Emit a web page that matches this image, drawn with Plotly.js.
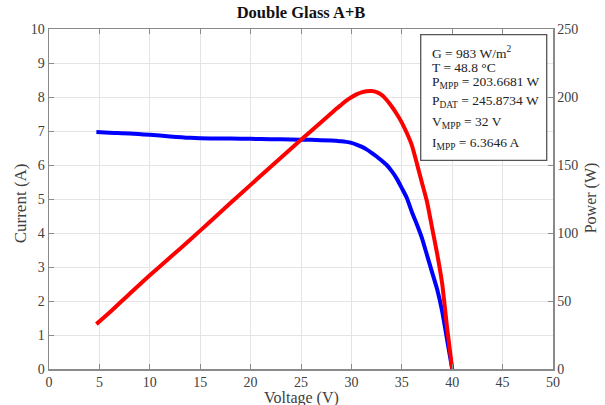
<!DOCTYPE html>
<html>
<head>
<meta charset="utf-8">
<script src="https://cdn.plot.ly/plotly-3.0.1.min.js"></script>
<style>html,body{margin:0;padding:0;background:#fff;}#chart{width:605px;height:405px;}</style>
</head>
<body>
<div id="chart"></div>
<script>
const voltage = [4.7, 6, 8, 10, 12, 14, 16, 18, 20, 22, 24, 26, 28, 28.5, 29, 29.5, 30, 30.5, 31, 31.5, 32, 32.5, 33, 33.5, 34, 34.5, 35, 35.5, 36, 36.5, 37, 37.5, 38, 38.5, 39, 39.5, 40];
const current = [6.97, 6.95, 6.93, 6.89, 6.84, 6.80, 6.78, 6.78, 6.77, 6.76, 6.75, 6.74, 6.72, 6.71, 6.70, 6.68, 6.65, 6.60, 6.54, 6.46, 6.36, 6.25, 6.13, 6.00, 5.82, 5.60, 5.32, 5.03, 4.62, 4.25, 3.85, 3.35, 2.85, 2.35, 1.70, 0.85, 0];
const power = [33, 41.5, 55.4, 68.9, 82, 95, 108.5, 122, 135.4, 148.7, 162, 175, 188, 191.3, 194.3, 197.3, 199.8, 201.9, 203.4, 204.2, 204.4, 203.6, 201.5, 197.8, 193, 187.5, 181.2, 173.5, 164.5, 151, 137, 123, 104, 85, 63, 30, 0];
const infoLines = [
  "G = 983 W/m<sup>2</sup>",
  "T = 48.8 °C",
  "P<sub>MPP</sub> = 203.6681 W",
  "P<sub>DAT</sub> = 245.8734 W",
  "V<sub>MPP</sub> = 32 V",
  "I<sub>MPP</sub> = 6.3646 A"
];
const infoY = [52, 67.5, 82, 101.5, 122, 143];

const serif = "Liberation Serif, Times New Roman, serif";
const textCol = "#404040";
const lineCol = "#8a8a8a";

const traces = [
  {x: voltage, y: current, type: "scatter", mode: "lines", line: {color: "#0000ff", width: 4, shape: "spline", smoothing: 0.6}, yaxis: "y", hoverinfo: "none"},
  {x: voltage, y: power, type: "scatter", mode: "lines", line: {color: "#ff0000", width: 4, shape: "spline", smoothing: 0.6}, yaxis: "y2", hoverinfo: "none"}
];

const plotLeft = 49, plotRight = 553, plotW = plotRight - plotLeft;
const plotTop = 28.7, plotBottom = 368.7, plotH = plotBottom - plotTop;
const annotations = infoLines.map((t, i) => ({
  text: t, xref: "paper", yref: "paper",
  x: (430 - plotLeft) / plotW, y: (plotBottom - infoY[i]) / plotH,
  xanchor: "left", yanchor: "middle", showarrow: false, align: "left",
  font: {family: serif, size: 13.5, color: "#222"}
}));
annotations.push({
  text: "Voltage (V)", xref: "paper", yref: "paper", x: 0.5, y: 0,
  yshift: -(387 - plotBottom), xanchor: "center", yanchor: "top", showarrow: false,
  font: {family: serif, size: 16, color: textCol}
});
annotations.push({
  text: "Current (A)", xref: "paper", yref: "paper", x: 0, y: (plotBottom - 203) / plotH,
  xshift: -(plotLeft - 20), xanchor: "center", yanchor: "middle", textangle: -90, showarrow: false,
  font: {family: serif, size: 17, color: textCol}
});
annotations.push({
  text: "Power (W)", xref: "paper", yref: "paper", x: 1, y: (plotBottom - 198) / plotH,
  xshift: 591 - plotRight, xanchor: "center", yanchor: "middle", textangle: -90, showarrow: false,
  font: {family: serif, size: 16, color: textCol}
});

const layout = {
  width: 605, height: 405,
  margin: {l: plotLeft, r: 605 - plotRight, t: plotTop, b: 405 - plotBottom},
  paper_bgcolor: "#fff", plot_bgcolor: "#fff",
  showlegend: false,
  title: {text: "<b>Double Glass A+B</b>", font: {family: serif, size: 16.5, color: "#111"}, x: 0.5, xref: "paper", y: 0.97, yanchor: "middle"},
  xaxis: {
    range: [0, 50], dtick: 5, tick0: 0,
    showgrid: true, gridcolor: "#e4e4e4", gridwidth: 1,
    zeroline: false, showline: true, linecolor: lineCol, linewidth: 1.5, mirror: "ticks",
    ticks: "inside", ticklen: 5, tickcolor: lineCol,
    tickfont: {family: serif, size: 14, color: textCol},
    automargin: false
  },
  yaxis: {
    range: [0, 10], dtick: 1, tick0: 0,
    showgrid: true, gridcolor: "#e4e4e4", gridwidth: 1,
    zeroline: false, showline: true, linecolor: lineCol, linewidth: 1.5,
    ticks: "inside", ticklen: 5, tickcolor: lineCol,
    tickfont: {family: serif, size: 14, color: textCol},
    automargin: false
  },
  yaxis2: {
    range: [0, 250], dtick: 50, tick0: 0, overlaying: "y", side: "right",
    showgrid: false, zeroline: false, showline: true, linecolor: lineCol, linewidth: 1.5,
    ticks: "inside", ticklen: 5, tickcolor: lineCol,
    tickfont: {family: serif, size: 14, color: textCol},
    automargin: false
  },
  shapes: [{
    type: "rect", xref: "paper", yref: "paper",
    x0: (420.7 - plotLeft) / plotW, x1: (546.7 - plotLeft) / plotW,
    y0: (plotBottom - 160) / plotH, y1: (plotBottom - 34.3) / plotH,
    line: {color: "#555", width: 1.3}, fillcolor: "#fff", layer: "above"
  }],
  annotations: annotations
};

Plotly.newPlot("chart", traces, layout, {displayModeBar: false, staticPlot: true});
</script>
</body>
</html>
